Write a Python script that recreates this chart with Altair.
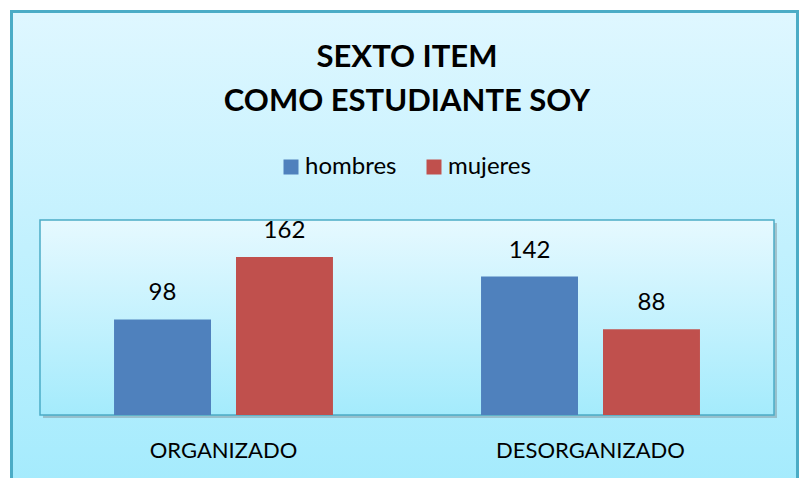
import altair as alt
import pandas as pd

categories = ["ORGANIZADO", "DESORGANIZADO"]
series = ["hombres", "mujeres"]
hombres = [98, 142]
mujeres = [162, 88]
title_lines = ["SEXTO ITEM", "COMO ESTUDIANTE SOY"]
colors = ["#4F81BD", "#C0504D"]

rows = []
for i, c in enumerate(categories):
    rows.append({"categoria": c, "serie": series[0], "valor": hombres[i]})
    rows.append({"categoria": c, "serie": series[1], "valor": mujeres[i]})
df = pd.DataFrame(rows)
one = pd.DataFrame({"k": [0]})

FONT = "Lato"
W, H = 734, 195
BORDER = "#4BACC6"

outer_grad = alt.LinearGradient(
    gradient="linear", x1=0, x2=0, y1=0, y2=1,
    stops=[alt.GradientStop(color="#DFF7FF", offset=0),
           alt.GradientStop(color="#A4EBFD", offset=1)])
inner_grad = alt.LinearGradient(
    gradient="linear", x1=0, x2=0, y1=0, y2=1,
    stops=[alt.GradientStop(color="#E6F9FF", offset=0),
           alt.GradientStop(color="#A4EBFC", offset=1)])

frame = alt.Chart(one).mark_rect(color=outer_grad).encode(
    x=alt.value(-30), x2=alt.value(760), y=alt.value(-210), y2=alt.value(270))
frame_left = alt.Chart(one).mark_rule(color=BORDER, strokeWidth=3).encode(
    x=alt.value(-28.5), y=alt.value(-210), y2=alt.value(270))
frame_right = alt.Chart(one).mark_rule(color=BORDER, strokeWidth=3).encode(
    x=alt.value(757.5), y=alt.value(-210), y2=alt.value(270))
frame_top = alt.Chart(one).mark_rule(color=BORDER, strokeWidth=3).encode(
    x=alt.value(-30), x2=alt.value(759), y=alt.value(-208.5))

shadow = alt.Chart(one).mark_rect(color="#7a8a90", opacity=0.45).encode(
    x=alt.value(3), x2=alt.value(W + 3), y=alt.value(3), y2=alt.value(H + 3))

plot_bg = alt.Chart(one).mark_rect(color=inner_grad, stroke=BORDER, strokeWidth=1.5).encode(
    x=alt.value(0), x2=alt.value(W), y=alt.value(0), y2=alt.value(H))

title = alt.Chart(one).mark_text(
    text=title_lines, font=FONT, fontWeight="bold", fontSize=31, lineHeight=44,
    baseline="alphabetic", align="center", color="#000000").encode(
    x=alt.value(W / 2), y=alt.value(-153))

xenc = alt.X("categoria:N", sort=categories, title=None,
             scale=alt.Scale(paddingInner=0, paddingOuter=0),
             axis=alt.Axis(labelAngle=0, ticks=False, tickSize=0, domain=False, grid=False,
                           labelFont=FONT, labelFontSize=22, labelColor="#000000",
                           labelLimit=0, labelBaseline="alphabetic", labelPadding=42,
                           zindex=2))
xoff = alt.XOffset("serie:N", sort=series,
                   scale=alt.Scale(paddingInner=0.205, paddingOuter=0.607))
yenc = alt.Y("valor:Q", scale=alt.Scale(domain=[0, 200]), axis=None)

bars = alt.Chart(df).mark_bar().encode(
    x=xenc, xOffset=xoff, y=yenc,
    color=alt.Color("serie:N", sort=series, title=None,
                    scale=alt.Scale(domain=series, range=colors),
                    legend=alt.Legend(orient="none", legendX=239, legendY=-65,
                                      direction="horizontal", symbolType="square",
                                      symbolSize=225, symbolStrokeWidth=0,
                                      labelFont=FONT, labelFontSize=24, labelColor="#000000",
                                      labelOffset=2, columnPadding=25, padding=0, zindex=2)))

labels = alt.Chart(df).mark_text(font=FONT, fontSize=24, baseline="alphabetic",
                                 dy=-19, color="#000000").encode(
    x=xenc, xOffset=xoff, y=yenc, text=alt.Text("valor:Q"))

chart = alt.layer(frame, frame_left, frame_right, frame_top, shadow, plot_bg, title,
                  bars, labels).properties(
    width=W, height=H,
    autosize=alt.AutoSizeParams(type="none"),
    padding={"left": 32, "top": 212, "right": 25, "bottom": 63},
    background="#FFFFFF",
).configure_view(stroke=None)

chart.save("out.html", embed_options={"renderer": "svg", "actions": False})
